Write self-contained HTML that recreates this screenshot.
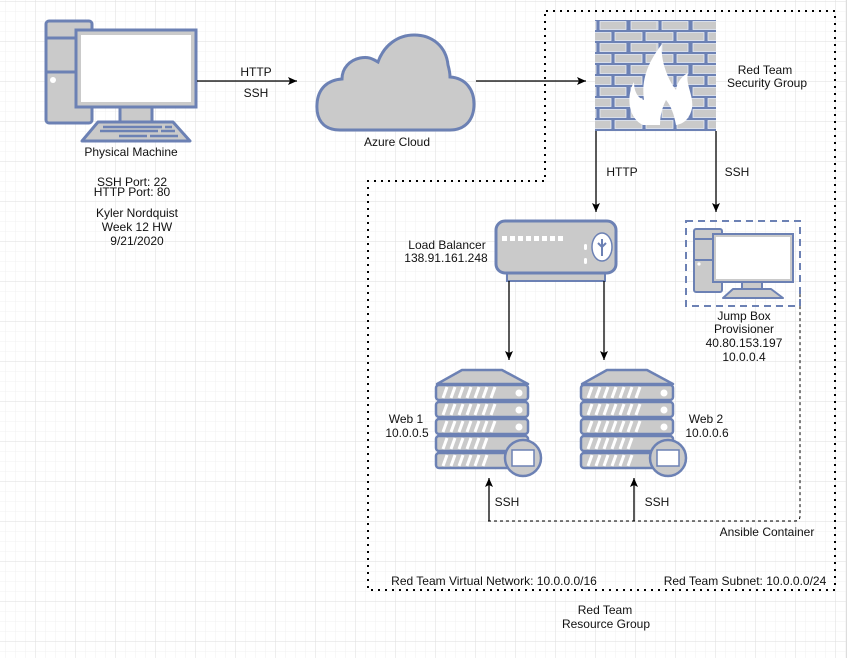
<!DOCTYPE html>
<html><head><meta charset="utf-8"><style>
html,body{margin:0;padding:0;background:#fff}
svg{display:block}
text{font-family:"Liberation Sans",Arial,sans-serif;font-size:12px;fill:#111}
</style></head><body>
<svg width="857" height="658" viewBox="0 0 857 658" xmlns="http://www.w3.org/2000/svg">
<defs>
<pattern id="minor" width="10" height="10" patternUnits="userSpaceOnUse" x="-4" y="2">
<path d="M10 0V10M0 10H10" stroke="#f0f0f0" stroke-width="1" fill="none"/>
</pattern>
<pattern id="major" width="40" height="40" patternUnits="userSpaceOnUse" x="-4" y="2">
<path d="M40 0V40M0 40H40" stroke="#dedede" stroke-width="1" fill="none"/>
</pattern>
<pattern id="brick" width="62" height="22" patternUnits="userSpaceOnUse" x="595" y="20">
<rect width="62" height="22" fill="#6c81b4"/>
<g fill="#cacaca" stroke="#e8ecf5" stroke-width="0.8">
<rect x="-26" y="1.5" width="27" height="8"/>
<rect x="5" y="1.5" width="26" height="8"/>
<rect x="36" y="1.5" width="26" height="8"/>
<rect x="-11" y="12.5" width="27" height="8"/>
<rect x="20" y="12.5" width="27" height="8"/>
<rect x="51" y="12.5" width="27" height="8"/>
</g>
</pattern>
<marker id="ar" markerWidth="10" markerHeight="10" refX="9" refY="5" orient="auto" markerUnits="userSpaceOnUse">
<path d="M0 1L9 5L0 9L2 5Z" fill="#000"/>
</marker>
<g id="server">
<path d="M437 384L462 370H502L528 384Z" fill="#cacaca" stroke="#6c81b4" stroke-width="2.5" stroke-linejoin="round"/>
<g fill="#cacaca" stroke="#6c81b4" stroke-width="2.5">
<rect x="436" y="385" width="92" height="15" rx="3"/>
<rect x="436" y="402" width="92" height="15" rx="3"/>
<rect x="436" y="419" width="92" height="15" rx="3"/>
<rect x="436" y="436" width="92" height="15" rx="3"/>
<rect x="436" y="453" width="92" height="15" rx="3"/>
</g>
<g stroke="#fff" stroke-width="3">
<path d="M443 398l4-11M451 398l4-11M459 398l4-11M467 398l4-11M475 398l4-11M483 398l4-11M491 398l4-11"/>
<path d="M443 415l4-11M451 415l4-11M459 415l4-11M467 415l4-11M475 415l4-11M483 415l4-11M491 415l4-11"/>
<path d="M443 432l4-11M451 432l4-11M459 432l4-11M467 432l4-11M475 432l4-11M483 432l4-11M491 432l4-11"/>
<path d="M443 449l4-11M451 449l4-11M459 449l4-11M467 449l4-11M475 449l4-11M483 449l4-11"/>
<path d="M443 466l4-11M451 466l4-11M459 466l4-11M467 466l4-11M475 466l4-11M483 466l4-11"/>
</g>
<circle cx="519" cy="393" r="3.5" fill="#fff"/><circle cx="519" cy="410" r="3.5" fill="#fff"/><circle cx="519" cy="427" r="3.5" fill="#fff"/>
<circle cx="523" cy="458" r="18" fill="#cacaca" stroke="#6c81b4" stroke-width="2.5"/>
<rect x="512" y="450" width="22" height="16" fill="#fff" stroke="#6c81b4" stroke-width="1.5"/>
</g>
</defs>
<rect width="857" height="658" fill="#fff"/>
<rect width="846" height="658" fill="url(#minor)"/>
<rect width="846" height="658" fill="url(#major)"/>
<line x1="846.5" y1="0" x2="846.5" y2="658" stroke="#ddd"/>

<path d="M546 11H835V590H368V181H545V11" fill="none" stroke="#000" stroke-width="2" stroke-dasharray="2 5"/>
<path d="M488 521H795Q800 521 800 516V290" fill="none" stroke="#000" stroke-width="1" stroke-dasharray="3 3"/>

<rect x="46" y="21" width="46" height="102" rx="3" fill="#cacaca" stroke="#6c81b4" stroke-width="3"/>
<path d="M46 38H78M46 72H78" stroke="#6c81b4" stroke-width="3"/>
<circle cx="53" cy="80" r="3" fill="#fff"/>
<rect x="120" y="105" width="32" height="18" fill="#cacaca" stroke="#6c81b4" stroke-width="3"/>
<rect x="76" y="30" width="120" height="77" fill="#cacaca" stroke="#6c81b4" stroke-width="3"/>
<rect x="81" y="35" width="110" height="67" fill="#fff"/>
<path d="M98 122H173L190 141H82Z" fill="#cacaca" stroke="#6c81b4" stroke-width="3" stroke-linejoin="round"/>
<path d="M103 127H162M165 127H172M100 131H158M161 131H175M119 136H147M150 136H178" stroke="#6c81b4" stroke-width="2.5"/>

<text x="131" y="156" text-anchor="middle">Physical Machine</text>
<text x="132" y="186" text-anchor="middle">SSH Port: 22</text>
<text x="132" y="196" text-anchor="middle">HTTP Port: 80</text>
<text x="137" y="217" text-anchor="middle">Kyler Nordquist</text>
<text x="137" y="231" text-anchor="middle">Week 12 HW</text>
<text x="137" y="245" text-anchor="middle">9/21/2020</text>

<line x1="197" y1="81" x2="297" y2="81" stroke="#000" stroke-width="1.3" marker-end="url(#ar)"/>
<text x="256" y="76" text-anchor="middle">HTTP</text>
<text x="256" y="97" text-anchor="middle">SSH</text>

<path d="M340 130C322 130 316 118 317 104C318 88 328 80 342 79C342 68 350 60 360 58C370 56 374 60 378 62C384 45 398 35 414 35C432 35 446 46 448 65C450 72 450 74 450 77C466 78 474 90 474 104C474 120 465 130 450 130Z" fill="#cacaca" stroke="#6c81b4" stroke-width="3"/>
<text x="397" y="146" text-anchor="middle">Azure Cloud</text>

<line x1="476" y1="81" x2="586" y2="81" stroke="#000" stroke-width="1.3" marker-end="url(#ar)"/>

<rect x="595" y="20" width="121" height="111" fill="url(#brick)"/>
<path d="M643 125C628 118 626 96 634 82C634 92 638 98 644 100C641 80 648 62 662 44C660 60 668 80 676 90C677 82 682 76 688 73C685 84 694 96 692 108C690 118 684 124 676 125C674 114 671 106 666 100C662 108 660 116 660 125Z" fill="#fff"/>
<text x="765" y="74" text-anchor="middle">Red Team</text>
<text x="767" y="87" text-anchor="middle">Security Group</text>

<line x1="596" y1="131" x2="596" y2="212" stroke="#000" stroke-width="1.3" marker-end="url(#ar)"/>
<line x1="716" y1="131" x2="716" y2="212" stroke="#000" stroke-width="1.3" marker-end="url(#ar)"/>
<text x="622" y="176" text-anchor="middle">HTTP</text>
<text x="737" y="176" text-anchor="middle">SSH</text>

<rect x="507" y="271" width="98" height="10" fill="#cacaca" stroke="#6c81b4" stroke-width="2"/>
<rect x="496" y="221" width="120" height="52" rx="9" fill="#cacaca" stroke="#6c81b4" stroke-width="3"/>
<g fill="#fff"><rect x="502" y="236" width="5" height="5"/><rect x="510" y="236" width="5" height="5"/><rect x="518" y="236" width="5" height="5"/><rect x="526" y="236" width="5" height="5"/><rect x="534" y="236" width="5" height="5"/><rect x="542" y="236" width="5" height="5"/><rect x="550" y="236" width="5" height="5"/><rect x="558" y="236" width="5" height="5"/>
<rect x="584" y="244" width="3" height="6" rx="1.5"/><rect x="584" y="258" width="3" height="6" rx="1.5"/></g>
<ellipse cx="602" cy="247" rx="10" ry="14" fill="#fff" stroke="#6c81b4" stroke-width="1.5"/>
<path d="M602 239V256M598 243L602 247L606 243" stroke="#6c81b4" stroke-width="2" fill="none"/>
<text x="447" y="249" text-anchor="middle">Load Balancer</text>
<text x="446" y="262" text-anchor="middle">138.91.161.248</text>

<line x1="509" y1="281" x2="509" y2="360" stroke="#000" stroke-width="1.3" marker-end="url(#ar)"/>
<line x1="604" y1="281" x2="604" y2="360" stroke="#000" stroke-width="1.3" marker-end="url(#ar)"/>

<rect x="686" y="221" width="114" height="85" fill="none" stroke="#6c81b4" stroke-width="2" stroke-dasharray="7 5"/>
<rect x="694" y="229" width="28" height="63" rx="2" fill="#cacaca" stroke="#6c81b4" stroke-width="2"/>
<path d="M694 239H712M694 260H712" stroke="#6c81b4" stroke-width="2"/>
<circle cx="699" cy="264" r="1.6" fill="#fff"/>
<rect x="742" y="281" width="20" height="8" fill="#cacaca" stroke="#6c81b4" stroke-width="2"/>
<rect x="713" y="234" width="80" height="48" fill="#cacaca" stroke="#6c81b4" stroke-width="2"/>
<rect x="716" y="237" width="74" height="42" fill="#fff"/>
<path d="M733 289H771L783 298H723Z" fill="#cacaca" stroke="#6c81b4" stroke-width="2" stroke-linejoin="round"/>
<text x="744" y="320" text-anchor="middle">Jump Box</text>
<text x="744" y="333" text-anchor="middle">Provisioner</text>
<text x="744" y="347" text-anchor="middle">40.80.153.197</text>
<text x="744" y="361" text-anchor="middle">10.0.0.4</text>

<use href="#server"/>
<use href="#server" transform="translate(145 0)"/>
<text x="406" y="423" text-anchor="middle">Web 1</text>
<text x="407" y="437" text-anchor="middle">10.0.0.5</text>
<text x="706" y="423" text-anchor="middle">Web 2</text>
<text x="707" y="437" text-anchor="middle">10.0.0.6</text>

<line x1="489" y1="521" x2="489" y2="478" stroke="#000" stroke-width="1.3" marker-end="url(#ar)"/>
<line x1="634" y1="521" x2="634" y2="478" stroke="#000" stroke-width="1.3" marker-end="url(#ar)"/>
<text x="507" y="506" text-anchor="middle">SSH</text>
<text x="657" y="506" text-anchor="middle">SSH</text>

<text x="767" y="536" text-anchor="middle">Ansible Container</text>
<text x="494" y="585" text-anchor="middle">Red Team Virtual Network: 10.0.0.0/16</text>
<text x="745" y="585" text-anchor="middle">Red Team Subnet: 10.0.0.0/24</text>
<text x="605" y="614" text-anchor="middle">Red Team</text>
<text x="606" y="628" text-anchor="middle">Resource Group</text>
</svg>
</body></html>
